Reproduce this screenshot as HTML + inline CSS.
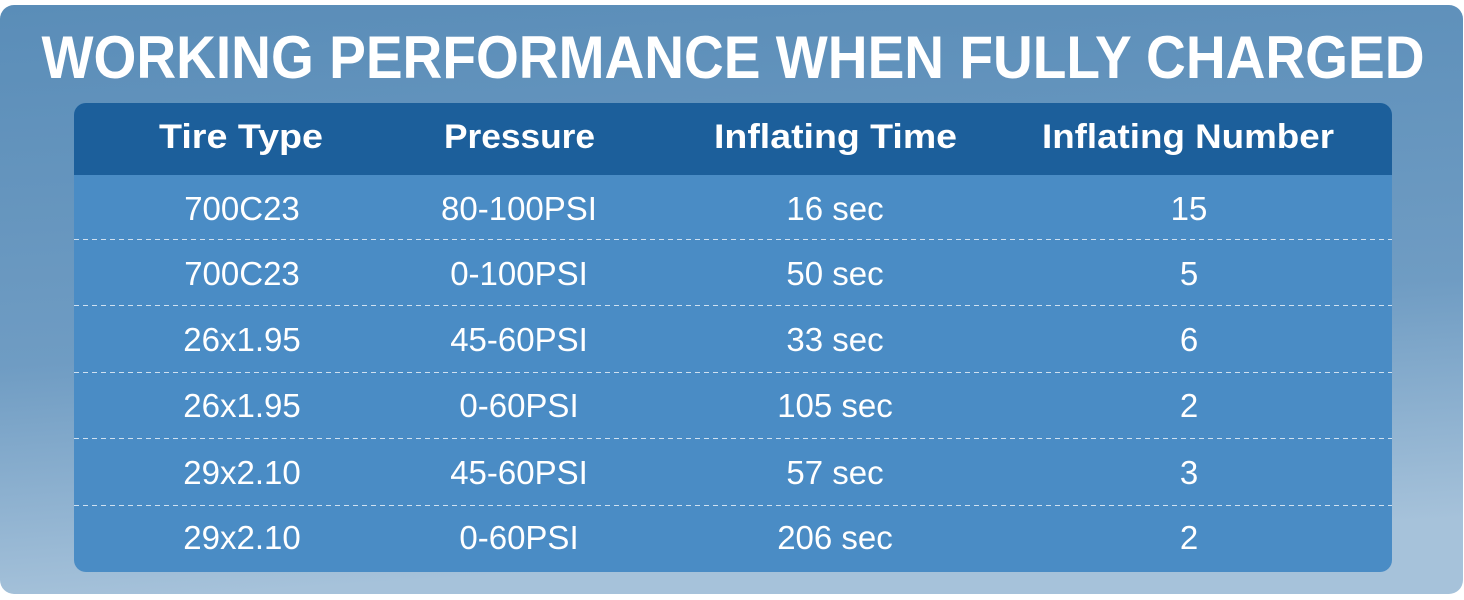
<!DOCTYPE html>
<html><head><meta charset="utf-8"><style>
html,body{margin:0;padding:0;background:#fff;}
svg{display:block;}
</style></head><body>
<svg width="1464" height="600" xmlns="http://www.w3.org/2000/svg">
<defs>
<linearGradient id="bg" x1="0" y1="0" x2="0.15" y2="1">
<stop offset="0" stop-color="#5a8db8"/>
<stop offset="0.6" stop-color="#6f9cc3"/>
<stop offset="1" stop-color="#a6c2da"/>
</linearGradient>
</defs>
<rect x="0" y="5" width="1463" height="589" rx="14" fill="url(#bg)"/>
<g font-family="Liberation Sans, sans-serif" fill="#fff" text-anchor="middle">
<text x="733" y="78" font-size="60" font-weight="bold" textLength="1383" lengthAdjust="spacingAndGlyphs">WORKING PERFORMANCE WHEN FULLY CHARGED</text>
</g>
<rect x="74" y="103" width="1318" height="469" rx="12" fill="#4a8cc5"/>
<path d="M74 175 V115 a12 12 0 0 1 12 -12 H1380 a12 12 0 0 1 12 12 V175 Z" fill="#1c5f9b"/>
<g stroke="#cfe0f0" stroke-width="1" stroke-dasharray="5,4">
<line x1="74" y1="239.5" x2="1392" y2="239.5"/>
<line x1="74" y1="305.5" x2="1392" y2="305.5"/>
<line x1="74" y1="372.5" x2="1392" y2="372.5"/>
<line x1="74" y1="438.5" x2="1392" y2="438.5"/>
<line x1="74" y1="505.5" x2="1392" y2="505.5"/>
</g>
<g font-family="Liberation Sans, sans-serif" fill="#fff" font-weight="bold" font-size="34">
<text x="159" y="148" textLength="164" lengthAdjust="spacingAndGlyphs">Tire Type</text>
<text x="444" y="148" textLength="151" lengthAdjust="spacingAndGlyphs">Pressure</text>
<text x="714" y="148" textLength="243" lengthAdjust="spacingAndGlyphs">Inflating Time</text>
<text x="1042" y="148" textLength="292" lengthAdjust="spacingAndGlyphs">Inflating Number</text>
</g>
<g font-family="Liberation Sans, sans-serif" fill="#fff" font-size="33" text-anchor="middle">
<text x="242" y="220">700C23</text><text x="519" y="220">80-100PSI</text><text x="835" y="220">16 sec</text><text x="1189" y="220">15</text>
<text x="242" y="285">700C23</text><text x="519" y="285">0-100PSI</text><text x="835" y="285">50 sec</text><text x="1189" y="285">5</text>
<text x="242" y="351">26x1.95</text><text x="519" y="351">45-60PSI</text><text x="835" y="351">33 sec</text><text x="1189" y="351">6</text>
<text x="242" y="417">26x1.95</text><text x="519" y="417">0-60PSI</text><text x="835" y="417">105 sec</text><text x="1189" y="417">2</text>
<text x="242" y="484">29x2.10</text><text x="519" y="484">45-60PSI</text><text x="835" y="484">57 sec</text><text x="1189" y="484">3</text>
<text x="242" y="549">29x2.10</text><text x="519" y="549">0-60PSI</text><text x="835" y="549">206 sec</text><text x="1189" y="549">2</text>
</g>
</svg>
</body></html>
